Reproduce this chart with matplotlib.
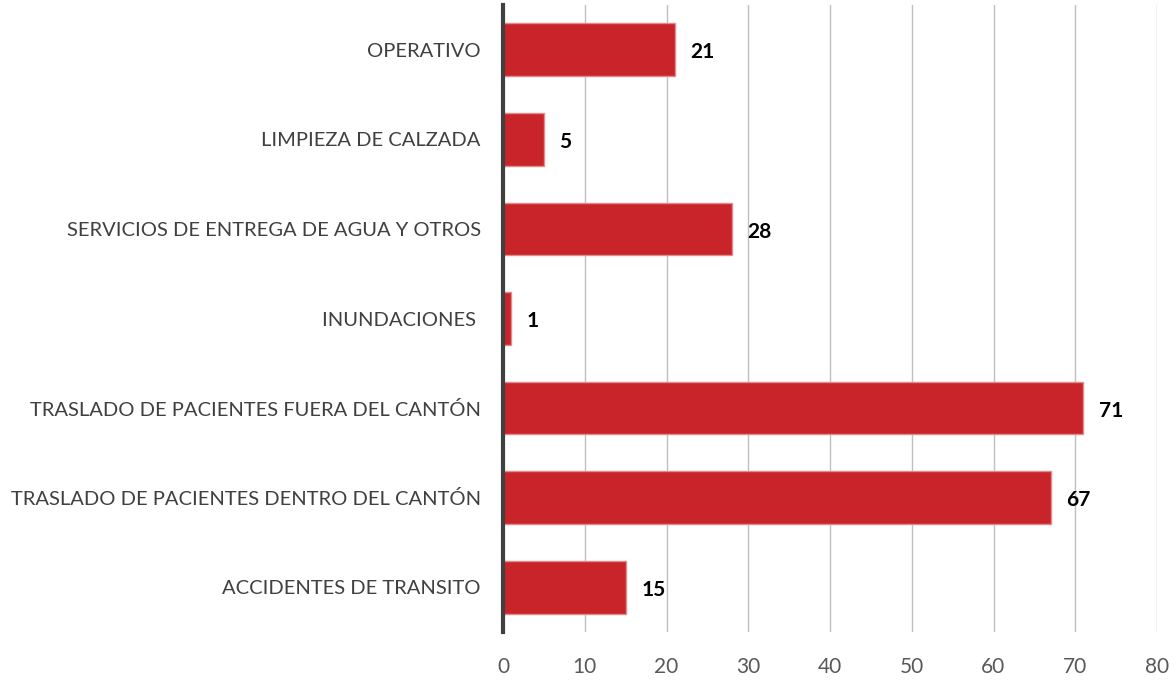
import matplotlib
matplotlib.use("Agg")
import matplotlib.pyplot as plt

categories = ["ACCIDENTES DE TRANSITO",
              "TRASLADO DE PACIENTES DENTRO DEL CANTÓN",
              "TRASLADO DE PACIENTES FUERA DEL CANTÓN",
              "INUNDACIONES ",
              "SERVICIOS DE ENTREGA DE AGUA Y OTROS",
              "LIMPIEZA DE CALZADA",
              "OPERATIVO"]
values = [15, 67, 71, 1, 28, 5, 21]
xticks = [0, 10, 20, 30, 40, 50, 60, 70, 80]

plt.rcParams['font.family'] = ['Lato', 'DejaVu Sans']

fig = plt.figure(figsize=(11.76, 6.8), dpi=100)
ax = fig.add_axes([503/1176, 1 - 632/680, (1157-503)/1176, (632-5)/680])

y = list(range(len(categories)))
ax.barh(y, values, height=0.59, color='#C8242A', edgecolor='#E28A8C', linewidth=1, zorder=3)
for yi, v in zip(y, values):
    ax.text(v + 1.9, yi - 0.03, str(v), va='center', ha='left', fontsize=15, fontweight='bold', color='black')

ax.set_xlim(0, 80)
ax.set_ylim(-0.5, len(categories) - 0.5)
ax.set_xticks(xticks)
ax.set_yticks(y)
ax.set_yticklabels(categories)
ax.tick_params(axis='y', length=0, pad=16, labelsize=14.5, labelcolor='#404040')
ax.tick_params(axis='x', length=0, pad=18, labelsize=15, labelcolor='#595959')
ax.grid(axis='x', color='#BFBFBF', linewidth=1, zorder=0)
for s in ['top', 'right', 'bottom']:
    ax.spines[s].set_visible(False)
ax.spines['left'].set_color('#404040')
ax.spines['left'].set_linewidth(3)
ax.spines['left'].set_zorder(4)

fig.savefig('out.png', dpi=100)
